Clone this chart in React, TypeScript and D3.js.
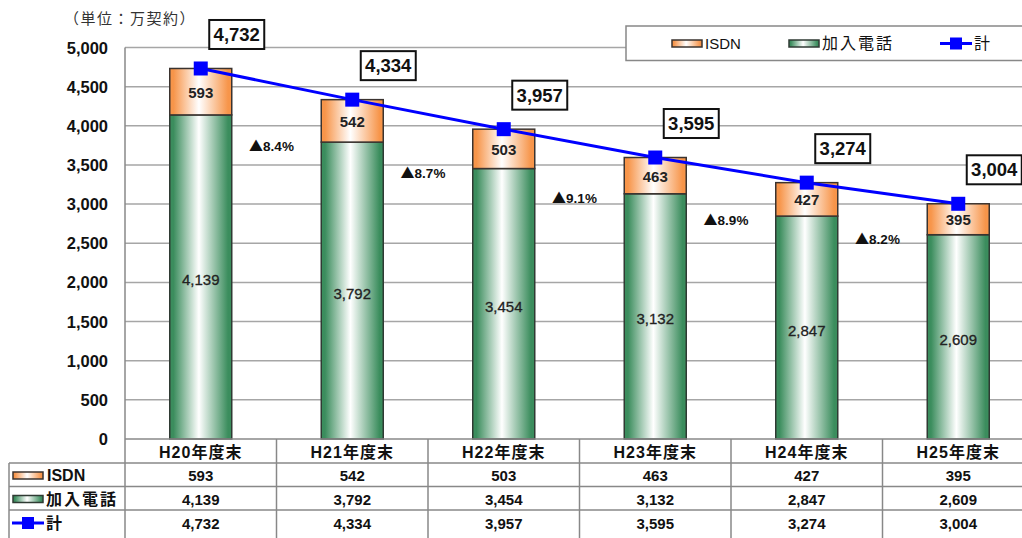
import React, { useEffect, useRef } from "react";
import * as d3 from "d3";

// 年度末ごとの契約数（万契約）
const categories = ["H20年度末", "H21年度末", "H22年度末", "H23年度末", "H24年度末", "H25年度末"];
const isdnValues = [593, 542, 503, 463, 427, 395];
const kanyuValues = [4139, 3792, 3454, 3132, 2847, 2609];
const totalValues = [4732, 4334, 3957, 3595, 3274, 3004];
// 前年度比の減少率
const declineRates = ["8.4", "8.7", "9.1", "8.9", "8.2"];
const yTicks = [0, 500, 1000, 1500, 2000, 2500, 3000, 3500, 4000, 4500, 5000];

const FONT = "'Liberation Sans', 'Noto Sans CJK JP', sans-serif";
const JP_FONT = "'Noto Sans CJK JP', 'Liberation Sans', sans-serif";

const WIDTH = 1022;
const HEIGHT = 538;

const App: React.FC = () => {
  const svgRef = useRef<SVGSVGElement>(null);

  useEffect(() => {
    if (!svgRef.current) return;
    const svg = d3.select(svgRef.current);
    svg.selectAll("*").remove();

    const plotLeft = 125;
    const colWidth = 151.5;
    const plotRight = plotLeft + colWidth * categories.length;

    const x = d3.scaleBand<string>().domain(categories).range([plotLeft, plotRight]).padding(0);
    const y = d3.scaleLinear().domain([0, 5000]).range([439, 47.5]);
    const barW = 62;
    const cx = (c: string) => (x(c) as number) + x.bandwidth() / 2;

    // グラデーション
    const defs = svg.append("defs");
    const makeGrad = (id: string, edge: string) => {
      const g = defs.append("linearGradient").attr("id", id).attr("x1", "0%").attr("x2", "100%").attr("y1", "0%").attr("y2", "0%");
      g.append("stop").attr("offset", "0%").attr("stop-color", edge);
      g.append("stop").attr("offset", "6%").attr("stop-color", edge);
      g.append("stop").attr("offset", "47%").attr("stop-color", "#ffffff");
      g.append("stop").attr("offset", "94%").attr("stop-color", edge);
      g.append("stop").attr("offset", "100%").attr("stop-color", edge);
    };
    makeGrad("gradGreen", "#3b8d5d");
    makeGrad("gradOrange", "#f7954a");

    // 単位
    svg.append("text")
      .attr("x", 64).attr("y", 24)
      .style("font-family", JP_FONT).style("font-size", "15px").style("fill", "#333")
      .style("letter-spacing", "1.5px")
      .text("（単位：万契約）");

    // グリッド線
    svg.append("g").selectAll("line").data(yTicks.filter((t) => t > 0)).enter()
      .append("line")
      .attr("x1", plotLeft).attr("x2", WIDTH + 20)
      .attr("y1", (d) => y(d)).attr("y2", (d) => y(d))
      .attr("stroke", "#a6a6a6").attr("stroke-width", 1.5);

    // Y軸
    svg.append("line")
      .attr("x1", plotLeft).attr("x2", plotLeft).attr("y1", y(5000)).attr("y2", y(0))
      .attr("stroke", "#888").attr("stroke-width", 1.5);

    svg.append("g").selectAll("text").data(yTicks).enter()
      .append("text")
      .attr("x", 108).attr("y", (d) => y(d) + 6)
      .attr("text-anchor", "end")
      .style("font-family", FONT).style("font-size", "16.5px").style("font-weight", "bold").style("fill", "#111")
      .text((d) => d3.format(",")(d));

    // 棒（加入電話）
    svg.append("g").selectAll("rect").data(categories).enter()
      .append("rect")
      .attr("x", (c) => cx(c) - barW / 2).attr("width", barW)
      .attr("y", (c, i) => y(kanyuValues[i])).attr("height", (c, i) => y(0) - y(kanyuValues[i]))
      .attr("fill", "url(#gradGreen)").attr("stroke", "#2f3a33").attr("stroke-width", 1.5);

    // 棒（ISDN）
    svg.append("g").selectAll("rect").data(categories).enter()
      .append("rect")
      .attr("x", (c) => cx(c) - barW / 2).attr("width", barW)
      .attr("y", (c, i) => y(totalValues[i])).attr("height", (c, i) => y(kanyuValues[i]) - y(totalValues[i]))
      .attr("fill", "url(#gradOrange)").attr("stroke", "#3a332f").attr("stroke-width", 1.5);

    // 棒内ラベル
    svg.append("g").selectAll("text").data(categories).enter()
      .append("text")
      .attr("x", (c) => cx(c)).attr("y", (c, i) => (y(kanyuValues[i]) + y(0)) / 2 + 8)
      .attr("text-anchor", "middle")
      .style("font-family", FONT).style("font-size", "15px").style("fill", "#222")
      .style("stroke", "#222").style("stroke-width", 0.3)
      .text((c, i) => d3.format(",")(kanyuValues[i]));

    svg.append("g").selectAll("text").data(categories).enter()
      .append("text")
      .attr("x", (c) => cx(c)).attr("y", (c, i) => (y(kanyuValues[i]) + y(totalValues[i])) / 2 + 6)
      .attr("text-anchor", "middle")
      .style("font-family", FONT).style("font-size", "15px").style("font-weight", "bold").style("fill", "#222")
      .text((c, i) => d3.format(",")(isdnValues[i]));

    // 減少率
    const rates = svg.append("g").selectAll("text").data(declineRates).enter()
      .append("text")
      .attr("x", (d, i) => (x(categories[i + 1]) as number) - 5)
      .attr("y", (d, i) => y(kanyuValues[i + 1]) + 9)
      .attr("text-anchor", "middle")
      .style("font-family", FONT).style("font-size", "13.5px").style("font-weight", "bold").style("fill", "#111");
    rates.append("tspan").style("font-family", JP_FONT).style("font-size", "14px").text("▲");
    rates.append("tspan").text((d) => `${d}%`);

    // 計（折れ線）
    const line = d3.line<number>().x((d, i) => cx(categories[i])).y((d) => y(d));
    svg.append("path")
      .datum(totalValues)
      .attr("fill", "none").attr("stroke", "#0000ff").attr("stroke-width", 3)
      .attr("d", line);

    svg.append("g").selectAll("rect").data(totalValues).enter()
      .append("rect")
      .attr("x", (d, i) => cx(categories[i]) - 7).attr("y", (d) => y(d) - 7)
      .attr("width", 14).attr("height", 14)
      .attr("fill", "#0000ff");

    // 計のラベル（枠付き）
    const totalLabels = svg.append("g").selectAll("g").data(totalValues).enter()
      .append("g")
      .attr("transform", (d, i) => `translate(${cx(categories[i]) + 36}, ${y(d) - 34})`);
    totalLabels.append("rect")
      .attr("x", -27.5).attr("y", -14.5).attr("width", 55).attr("height", 29)
      .attr("fill", "#fff").attr("stroke", "#111").attr("stroke-width", 2);
    totalLabels.append("text")
      .attr("y", 6.5).attr("text-anchor", "middle")
      .style("font-family", FONT).style("font-size", "18.5px").style("font-weight", "bold").style("fill", "#111")
      .text((d) => d3.format(",")(d));

    // 凡例
    const legend = svg.append("g");
    legend.append("rect")
      .attr("x", 626).attr("y", 26).attr("width", 420).attr("height", 34.5)
      .attr("fill", "#fff").attr("stroke", "#888").attr("stroke-width", 1.5);
    const swatch = (g: any, sx: number, sy: number, fill: string, stroke: string) => {
      g.append("rect").attr("x", sx).attr("y", sy).attr("width", 30).attr("height", 7)
        .attr("fill", fill).attr("stroke", stroke).attr("stroke-width", 1.5);
    };
    const blueMark = (g: any, lx: number, ly: number) => {
      g.append("line").attr("x1", lx).attr("x2", lx + 32).attr("y1", ly).attr("y2", ly)
        .attr("stroke", "#0000ff").attr("stroke-width", 3);
      g.append("rect").attr("x", lx + 10).attr("y", ly - 6).attr("width", 12).attr("height", 12).attr("fill", "#0000ff");
    };
    swatch(legend, 672, 40, "url(#gradOrange)", "#3a332f");
    legend.append("text").attr("x", 705).attr("y", 49)
      .style("font-family", FONT).style("font-size", "15px").style("fill", "#111").text("ISDN");
    swatch(legend, 789, 40, "url(#gradGreen)", "#2f3a33");
    legend.append("text").attr("x", 822).attr("y", 49)
      .style("font-family", JP_FONT).style("font-size", "16px").style("letter-spacing", "2px").style("fill", "#111").text("加入電話");
    blueMark(legend, 940, 43.5);
    legend.append("text").attr("x", 974).attr("y", 49)
      .style("font-family", JP_FONT).style("font-size", "16px").style("fill", "#111").text("計");

    // データテーブル
    const table = svg.append("g");
    const rowLines = [439, 463, 486.5, 510];
    const tableBottom = 540;
    rowLines.forEach((ry, i) => {
      table.append("line")
        .attr("x1", i === 0 ? plotLeft : 9).attr("x2", WIDTH + 20)
        .attr("y1", ry).attr("y2", ry)
        .attr("stroke", "#888").attr("stroke-width", 1.5);
    });
    table.append("line").attr("x1", 9).attr("x2", 9).attr("y1", 463).attr("y2", tableBottom)
      .attr("stroke", "#888").attr("stroke-width", 1.5);
    categories.forEach((c) => {
      table.append("line")
        .attr("x1", x(c) as number).attr("x2", x(c) as number).attr("y1", 439).attr("y2", tableBottom)
        .attr("stroke", "#888").attr("stroke-width", 1.5);
    });

    table.selectAll("text.cat").data(categories).enter()
      .append("text").attr("class", "cat")
      .attr("x", (c) => cx(c)).attr("y", 458)
      .attr("text-anchor", "middle")
      .style("font-family", FONT).style("font-size", "16px").style("font-weight", "bold")
      .style("letter-spacing", "1px").style("fill", "#111")
      .text((c) => c);

    const rows = [
      { values: isdnValues, y: 481 },
      { values: kanyuValues, y: 504.5 },
      { values: totalValues, y: 529 },
    ];
    rows.forEach((r) => {
      table.append("g").selectAll("text").data(r.values).enter()
        .append("text")
        .attr("x", (d, i) => cx(categories[i])).attr("y", r.y)
        .attr("text-anchor", "middle")
        .style("font-family", FONT).style("font-size", "15px").style("font-weight", "bold").style("fill", "#111")
        .text((d) => d3.format(",")(d));
    });

    swatch(table, 13, 472, "url(#gradOrange)", "#3a332f");
    table.append("text").attr("x", 47).attr("y", 481)
      .style("font-family", FONT).style("font-size", "16px").style("font-weight", "bold").style("fill", "#111").text("ISDN");
    swatch(table, 13, 495.5, "url(#gradGreen)", "#2f3a33");
    table.append("text").attr("x", 46).attr("y", 504.5)
      .style("font-family", JP_FONT).style("font-size", "16px").style("font-weight", "bold")
      .style("letter-spacing", "2px").style("fill", "#111").text("加入電話");
    blueMark(table, 12, 523);
    table.append("text").attr("x", 46).attr("y", 529)
      .style("font-family", JP_FONT).style("font-size", "16px").style("font-weight", "bold").style("fill", "#111").text("計");
  }, []);

  return (
    <div style={{ position: "absolute", left: 0, top: 0, width: WIDTH, height: HEIGHT, background: "#fff" }}>
      <svg ref={svgRef} width={WIDTH} height={HEIGHT} style={{ display: "block" }} />
    </div>
  );
};

export default App;
